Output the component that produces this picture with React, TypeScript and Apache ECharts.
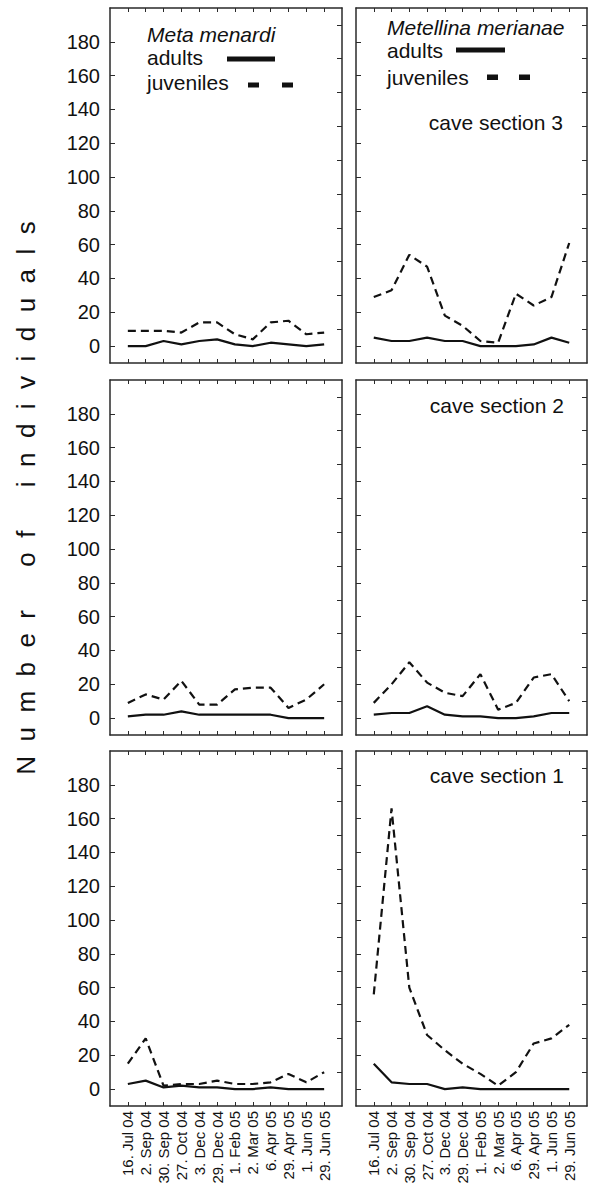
import React, { useEffect, useRef } from "react";
import * as echarts from "echarts";

const categories = [
  "16. Jul 04", "2. Sep 04", "30. Sep 04", "27. Oct 04", "3. Dec 04", "29. Dec 04",
  "1. Feb 05", "2. Mar 05", "6. Apr 05", "29. Apr 05", "1. Jun 05", "29. Jun 05",
];
const xTickValues = [0, 1, 2, 3, 4, 5, 6, 7, 8, 9, 10, 11];
const yTickValues = [0, 20, 40, 60, 80, 100, 120, 140, 160, 180];
const yRightTickValues = [10, 30, 50, 70, 90, 110, 130, 150, 170, 190];

// Meta menardi (left column)
const menardiS3Adults = [0, 0, 3, 1, 3, 4, 1, 0, 2, 1, 0, 1];
const menardiS3Juveniles = [9, 9, 9, 8, 14, 14, 7, 4, 14, 15, 7, 8];
const menardiS2Adults = [1, 2, 2, 4, 2, 2, 2, 2, 2, 0, 0, 0];
const menardiS2Juveniles = [9, 14, 11, 22, 8, 8, 17, 18, 18, 6, 11, 20];
const menardiS1Adults = [3, 5, 1, 2, 1, 1, 0, 0, 1, 0, 0, 0];
const menardiS1Juveniles = [15, 30, 2, 3, 3, 5, 3, 3, 4, 9, 4, 10];

// Metellina merianae (right column)
const merianaeS3Adults = [5, 3, 3, 5, 3, 3, 0, 0, 0, 1, 5, 2];
const merianaeS3Juveniles = [29, 33, 54, 47, 18, 12, 3, 2, 31, 24, 29, 61];
const merianaeS2Adults = [2, 3, 3, 7, 2, 1, 1, 0, 0, 1, 3, 3];
const merianaeS2Juveniles = [9, 20, 33, 21, 15, 13, 26, 5, 9, 24, 26, 10];
const merianaeS1Adults = [15, 4, 3, 3, 0, 1, 0, 0, 0, 0, 0, 0];
const merianaeS1Juveniles = [56, 166, 60, 32, 23, 15, 9, 2, 10, 27, 30, 38];

const panels = [
  { row: 0, col: 0, adults: menardiS3Adults, juveniles: menardiS3Juveniles },
  { row: 0, col: 1, adults: merianaeS3Adults, juveniles: merianaeS3Juveniles },
  { row: 1, col: 0, adults: menardiS2Adults, juveniles: menardiS2Juveniles },
  { row: 1, col: 1, adults: merianaeS2Adults, juveniles: merianaeS2Juveniles },
  { row: 2, col: 0, adults: menardiS1Adults, juveniles: menardiS1Juveniles },
  { row: 2, col: 1, adults: merianaeS1Adults, juveniles: merianaeS1Juveniles },
];

const FONT = '"Liberation Sans", Arial, Helvetica, sans-serif';
const INK = "#111";
const AXIS = "#2a2a2a";

const gridLefts = [110, 356];
const gridWidths = [232, 231];
const gridTops = [8, 380, 751];
const gridHeight = 355;

function buildOption() {
  const grid: any[] = [];
  const xAxis: any[] = [];
  const yAxis: any[] = [];
  const series: any[] = [];

  const axisLine = { show: true, onZero: false, lineStyle: { color: AXIS, width: 1.5 } };

  panels.forEach((p, i) => {
    grid.push({
      left: gridLefts[p.col],
      top: gridTops[p.row],
      width: gridWidths[p.col],
      height: gridHeight,
      containLabel: false,
      outerBoundsMode: "none",
    });
    const isBottom = p.row === 2;
    const isLeft = p.col === 0;
    xAxis.push({
      type: "value",
      gridIndex: i,
      position: "bottom",
      min: -1,
      max: 12,
      axisLine,
      splitLine: { show: false },
      axisTick: {
        show: true,
        inside: true,
        length: 4,
        customValues: xTickValues,
        lineStyle: { color: AXIS, width: 1 },
      },
      axisLabel: {
        show: isBottom,
        customValues: xTickValues,
        rotate: 90,
        margin: 5,
        fontSize: 15,
        fontFamily: FONT,
        color: INK,
        formatter: (v: number) => categories[Math.round(v)] ?? "",
      },
    });
    xAxis.push({
      type: "value",
      gridIndex: i,
      position: "top",
      min: -1,
      max: 12,
      axisLine,
      splitLine: { show: false },
      axisTick: {
        show: true,
        inside: true,
        length: 4,
        customValues: xTickValues,
        lineStyle: { color: AXIS, width: 1 },
      },
      axisLabel: { show: false },
    });
    yAxis.push({
      type: "value",
      gridIndex: i,
      position: "left",
      min: -10,
      max: 200,
      axisLine,
      splitLine: { show: false },
      axisTick: {
        show: true,
        inside: true,
        length: 5,
        customValues: yTickValues,
        lineStyle: { color: AXIS, width: 1 },
      },
      axisLabel: {
        show: isLeft,
        customValues: yTickValues,
        margin: 10,
        fontSize: 20,
        fontFamily: FONT,
        color: INK,
      },
    });
    yAxis.push({
      type: "value",
      gridIndex: i,
      position: "right",
      min: -10,
      max: 200,
      axisLine,
      splitLine: { show: false },
      axisTick: {
        show: true,
        inside: true,
        length: 5,
        customValues: yRightTickValues,
        lineStyle: { color: AXIS, width: 1 },
      },
      axisLabel: { show: false },
    });

    series.push({
      type: "line",
      name: "adults",
      xAxisIndex: i * 2,
      yAxisIndex: i * 2,
      data: p.adults.map((v, k) => [k, v]),
      symbol: "none",
      lineStyle: { color: INK, width: 2.2, type: "solid" },
      silent: true,
    });
    series.push({
      type: "line",
      name: "juveniles",
      xAxisIndex: i * 2,
      yAxisIndex: i * 2,
      data: p.juveniles.map((v, k) => [k, v]),
      symbol: "none",
      lineStyle: { color: INK, width: 2.2, type: [8, 5] },
      silent: true,
    });
  });

  const txt = (text: string, x: number, y: number, opts: any = {}) => ({
    type: "text",
    x,
    y,
    silent: true,
    style: {
      text,
      fill: INK,
      font: `${opts.italic ? "italic " : ""}${opts.size || 21}px ${FONT}`,
      textAlign: opts.align || "left",
      textVerticalAlign: "middle",
      align: opts.align || "left",
      verticalAlign: "middle",
    },
  });
  const box = (x: number, y: number, w: number, h: number) => ({
    type: "rect",
    silent: true,
    shape: { x, y, width: w, height: h },
    style: { fill: INK },
  });

  const graphic: any[] = [
    txt("Meta menardi", 147, 34.5, { italic: true }),
    txt("adults", 147, 57.5),
    box(227, 56.5, 48, 5),
    txt("juveniles", 147, 82.5),
    box(248, 82.5, 11, 5),
    box(282, 82.5, 11, 5),
    txt("Metellina merianae", 387, 27.5, { italic: true }),
    txt("adults", 387, 50.5),
    box(456, 47.5, 49, 5),
    txt("juveniles", 387, 77.5),
    box(487, 74.5, 11, 5.5),
    box(519, 74.5, 11, 5.5),
    txt("cave section 3", 563, 122.5, { align: "right" }),
    txt("cave section 2", 564, 405.5, { align: "right" }),
    txt("cave section 1", 564, 775, { align: "right" }),
    {
      type: "text",
      x: 26,
      y: 498,
      rotation: Math.PI / 2,
      silent: true,
      style: {
        text: "N\u00a0\u00a0u\u00a0\u00a0m\u00a0\u00a0b\u00a0\u00a0e\u00a0\u00a0r\u00a0\u00a0\u00a0\u00a0\u00a0\u00a0o\u00a0\u00a0f\u00a0\u00a0\u00a0\u00a0\u00a0\u00a0i\u00a0\u00a0n\u00a0\u00a0d\u00a0\u00a0i\u00a0\u00a0v\u00a0\u00a0i\u00a0\u00a0d\u00a0\u00a0u\u00a0\u00a0a\u00a0\u00a0l\u00a0\u00a0s",
        fill: INK,
        font: `26px ${FONT}`,
        textAlign: "center",
        textVerticalAlign: "middle",
        align: "center",
        verticalAlign: "middle",
      },
    },
  ];

  return {
    animation: false,
    backgroundColor: "#ffffff",
    grid,
    xAxis,
    yAxis,
    series,
    graphic,
  };
}

export default function App() {
  const ref = useRef<HTMLDivElement>(null);
  useEffect(() => {
    document.body.style.margin = "0";
    if (!ref.current) return;
    const chart = echarts.init(ref.current, undefined, { renderer: "svg" });
    chart.setOption(buildOption() as any);
    return () => {
      chart.dispose();
    };
  }, []);
  return <div ref={ref} style={{ width: 589, height: 1185 }} />;
}
